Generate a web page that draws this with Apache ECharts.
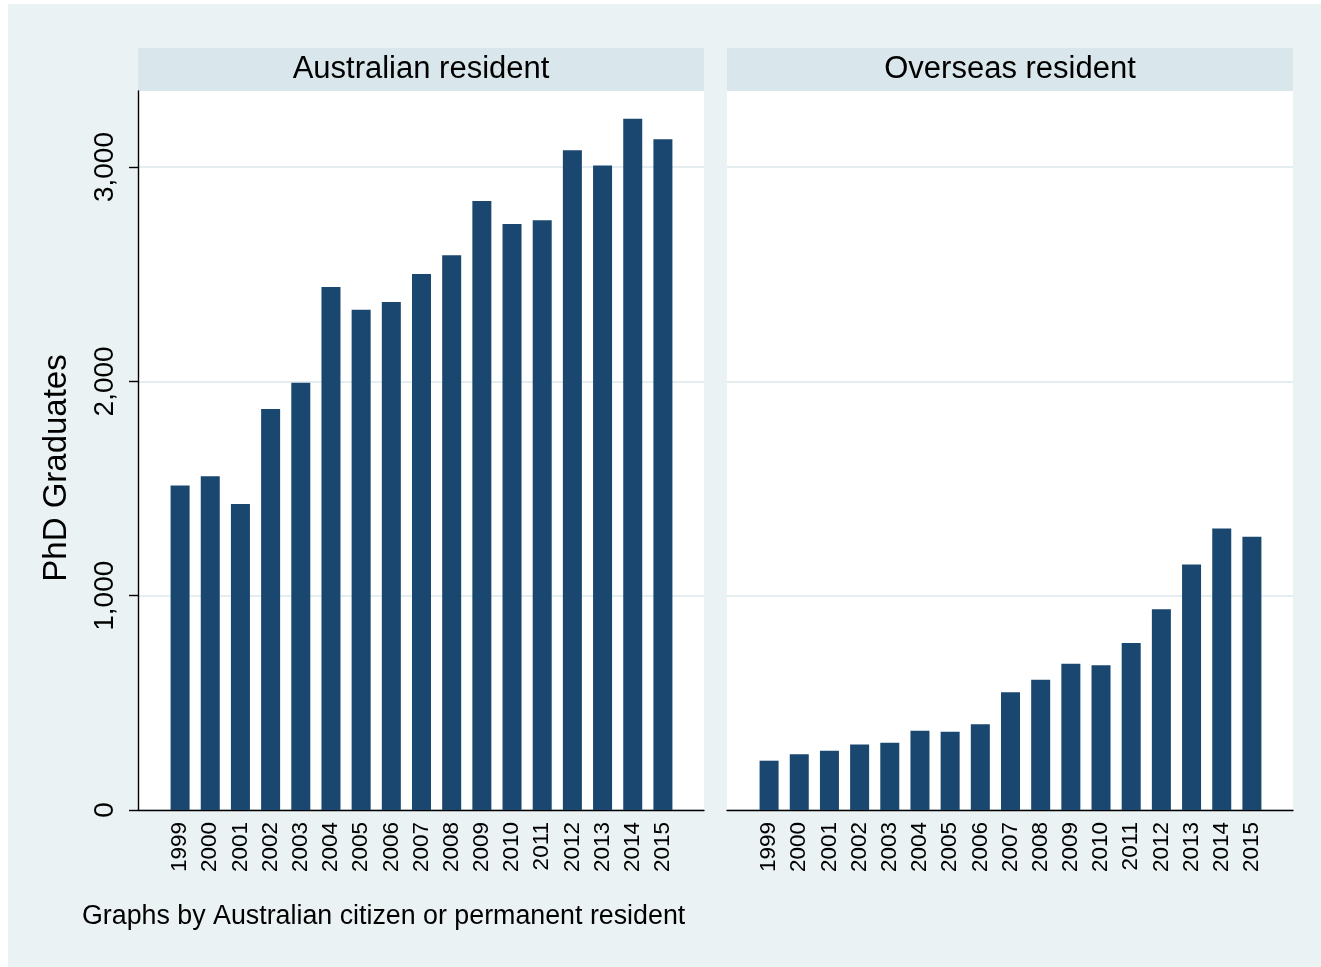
<!DOCTYPE html>
<html>
<head>
<meta charset="utf-8">
<title>PhD Graduates by residency</title>
<script src="https://cdn.jsdelivr.net/npm/echarts@6/dist/echarts.min.js"></script>
<style>
  html, body { margin: 0; padding: 0; background: #ffffff; }
  #chart { position: absolute; left: 8px; top: 4px; width: 1313px; height: 963px; }
</style>
</head>
<body>
<div id="chart"></div>
<script>
// Graduation years (categories)
const years = ['1999','2000','2001','2002','2003','2004','2005','2006','2007','2008',
               '2009','2010','2011','2012','2013','2014','2015'];
// PhD graduates, Australian citizens or permanent residents
const australianResident = [1514, 1557, 1428, 1871, 1994, 2441, 2334, 2371, 2501, 2589,
                            2842, 2734, 2752, 3079, 3007, 3225, 3130];
// PhD graduates, overseas residents
const overseasResident = [230, 260, 277, 306, 314, 370, 365, 400, 550, 608,
                          683, 675, 779, 937, 1145, 1313, 1275];
// Panel titles and y-axis ticks
const panelTitles = ['Australian resident', 'Overseas resident'];
const yTicks = [0, 1000, 2000, 3000];
const yMax = 3355;

const FONT = '"Liberation Sans", Arial, Helvetica, sans-serif';
const BAR = '#1a476f';
const BG = '#eaf2f3';
const STRIP = '#d9e6eb';
const GRIDLINE = '#e4eef0';

const chart = echarts.init(document.getElementById('chart'), null, { renderer: 'canvas' });

const plotTop = 87, plotH = 719;
const frames = [{ left: 130, width: 566 }, { left: 719, width: 566 }];
const inner = [{ left: 157, width: 513 }, { left: 746, width: 513 }];

const grids = [];
frames.forEach(f => grids.push({
  left: f.left, top: plotTop, width: f.width, height: plotH,
  show: true, backgroundColor: '#ffffff', borderWidth: 0, containLabel: false
}));
inner.forEach(f => grids.push({
  left: f.left, top: plotTop, width: f.width, height: plotH,
  show: false, containLabel: false
}));

const fmt = v => Number(v).toLocaleString('en-US');

const xAxes = [];
const yAxes = [];
// frame axes: baseline, y axis with ticks, light gridlines
[0, 1].forEach(i => {
  xAxes.push({
    type: 'value', gridIndex: i, min: 0, max: 1,
    axisLine: { show: true, onZero: false, lineStyle: { color: '#000', width: 1.4 } },
    axisTick: { show: false }, axisLabel: { show: false }, splitLine: { show: false }
  });
  yAxes.push({
    type: 'value', gridIndex: i, min: 0, max: yMax, interval: 1000,
    axisLine: { show: i === 0, lineStyle: { color: '#000', width: 1.4 } },
    axisTick: { show: i === 0, length: 9, customValues: yTicks,
                lineStyle: { color: '#000', width: 1.4 } },
    axisLabel: {
      show: i === 0, customValues: yTicks, rotate: 90, margin: 19,
      fontFamily: FONT, fontSize: 28, color: '#000', formatter: fmt
    },
    splitLine: { show: true, lineStyle: { color: GRIDLINE, width: 2 } }
  });
});
// bar axes: year categories
[2, 3].forEach(i => {
  xAxes.push({
    type: 'category', gridIndex: i, data: years,
    axisLine: { show: false }, axisTick: { show: false },
    axisLabel: {
      interval: 0, rotate: 90, margin: 12,
      fontFamily: FONT, fontSize: 22.5, color: '#000'
    }
  });
  yAxes.push({
    type: 'value', gridIndex: i, min: 0, max: yMax, interval: 1000, show: false
  });
});

const graphics = [];
frames.forEach((f, i) => {
  graphics.push({
    type: 'rect', left: f.left, top: 44, silent: true,
    shape: { width: f.width, height: 43 }, style: { fill: STRIP }
  });
  graphics.push({
    type: 'text', silent: true,
    x: f.left + f.width / 2, y: 65.5,
    style: {
      text: panelTitles[i], fontFamily: FONT, fontSize: 31, fill: '#000',
      align: 'center', verticalAlign: 'middle'
    }
  });
});
// y-axis title
graphics.push({
  type: 'text', silent: true, x: 49, y: 464, rotation: Math.PI / 2,
  style: {
    text: 'PhD Graduates', fontFamily: FONT, fontSize: 33, fill: '#000',
    align: 'center', verticalAlign: 'middle'
  }
});
// note below the panels
graphics.push({
  type: 'text', silent: true, x: 74, y: 913,
  style: {
    text: 'Graphs by Australian citizen or permanent resident',
    fontFamily: FONT, fontSize: 26.8, fill: '#000',
    align: 'left', verticalAlign: 'middle'
  }
});

chart.setOption({
  backgroundColor: BG,
  animation: false,
  grid: grids,
  xAxis: xAxes,
  yAxis: yAxes,
  graphic: graphics,
  series: [
    {
      name: panelTitles[0], type: 'bar', xAxisIndex: 2, yAxisIndex: 2,
      data: australianResident, barWidth: 19, itemStyle: { color: BAR }
    },
    {
      name: panelTitles[1], type: 'bar', xAxisIndex: 3, yAxisIndex: 3,
      data: overseasResident, barWidth: 19, itemStyle: { color: BAR }
    }
  ]
});
</script>
</body>
</html>
